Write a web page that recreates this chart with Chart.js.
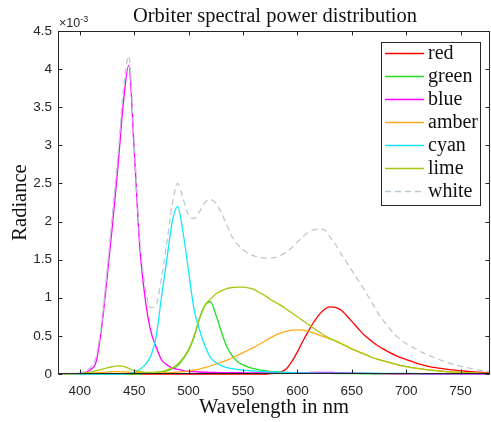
<!DOCTYPE html>
<html>
<head>
<meta charset="utf-8">
<script src="https://cdn.jsdelivr.net/npm/chart.js@4.4.1/dist/chart.umd.min.js"></script>
<style>
  html, body { margin: 0; padding: 0; background: #fff; }
  canvas { display: block; }
</style>
</head>
<body>
<canvas id="spd" width="491" height="422"></canvas>
<script>
// wavelengths in nm, radiance values in units of 1e-3
const wavelengths = [380,385,390,395,400,405,410,415,420,425,
  430,435,440,445,450,455,460,465,470,475,
  480,485,490,495,500,505,510,515,520,525,
  530,535,540,545,550,555,560,565,570,575,
  580,585,590,595,600,605,610,615,620,625,
  630,635,640,645,650,655,660,665,670,675,
  680,685,690,695,700,705,710,715,720,725,
  730,735,740,745,750,755,760,765,770,775,
  780];

const red = [0,0,0,0,0,0,0,0,0,0,
  0,0,0,0,0,0,0,0,0,0,
  0,0,0,0,0,0,0,0,0,0,
  0,0,0,0,0,0,0,0,0,0.005,
  0.012,0.028,0.07,0.165,0.29,0.43,0.56,0.68,0.78,0.85,
  0.88,0.875,0.84,0.77,0.69,0.61,0.53,0.47,0.41,0.36,
  0.32,0.28,0.245,0.215,0.19,0.165,0.14,0.12,0.1,0.088,
  0.077,0.067,0.058,0.05,0.043,0.036,0.03,0.025,0.02,0.016,
  0.013];

const green = [0,0,0,0,0,0,0,0,0,0,
  0,0,0,0,0,0,0.01,0.015,0.02,0.03,
  0.04,0.07,0.11,0.2,0.31,0.48,0.73,0.9,0.95,0.78,
  0.56,0.36,0.24,0.16,0.12,0.09,0.07,0.055,0.045,0.035,
  0.03,0.025,0.02,0.018,0.015,0.013,0.011,0.01,0.009,0.008,
  0.007,0.006,0.005,0.005,0.004,0.004,0.003,0.003,0.003,0.002,
  0.002,0.002,0.002,0.002,0.002,0.002,0.002,0.002,0.002,0.002,
  0.001,0.001,0.001,0.001,0.001,0.001,0.001,0.001,0.001,0.001,
  0.001];

const blue = [0,0,0,0,0.005,0.02,0.06,0.16,0.6,1.25,
  1.95,2.7,3.55,4.05,2.95,1.7,1.0,0.58,0.36,0.19,
  0.12,0.08,0.06,0.045,0.035,0.03,0.026,0.023,0.021,0.02,
  0.019,0.018,0.017,0.017,0.016,0.016,0.016,0.016,0.016,0.016,
  0.016,0.016,0.016,0.017,0.018,0.018,0.019,0.02,0.02,0.02,
  0.02,0.019,0.018,0.016,0.014,0.012,0.01,0.008,0.006,0.005,
  0.004,0.003,0.002,0.002,0.001,0.001,0.001,0,0,0,
  0,0,0,0,0,0,0,0,0,0,
  0];

const amber = [0,0,0,0,0.003,0.006,0.01,0.015,0.02,0.025,
  0.03,0.03,0.028,0.024,0.02,0.018,0.016,0.015,0.015,0.016,
  0.018,0.02,0.024,0.03,0.038,0.05,0.065,0.085,0.105,0.13,
  0.155,0.18,0.21,0.245,0.28,0.315,0.35,0.39,0.43,0.47,
  0.51,0.54,0.56,0.575,0.58,0.575,0.56,0.54,0.51,0.485,
  0.46,0.435,0.4,0.365,0.33,0.3,0.27,0.24,0.21,0.19,
  0.17,0.15,0.13,0.11,0.096,0.085,0.075,0.065,0.055,0.048,
  0.04,0.034,0.028,0.024,0.02,0.016,0.013,0.01,0.008,0.006,
  0.005];

const cyan = [0,0,0,0,0,0,0,0,0,0,
  0,0,0,0.005,0.02,0.06,0.12,0.23,0.47,1.0,
  1.5,2.0,2.2,1.85,1.35,0.85,0.58,0.37,0.22,0.15,
  0.11,0.085,0.07,0.06,0.05,0.045,0.04,0.035,0.03,0.028,
  0.025,0.022,0.02,0.018,0.016,0.015,0.014,0.013,0.012,0.011,
  0.01,0.01,0.01,0.01,0.01,0.01,0.01,0.01,0.01,0.01,
  0.009,0.009,0.008,0.008,0.007,0.007,0.006,0.006,0.005,0.005,
  0.005,0.005,0.005,0.005,0.005,0.005,0.005,0.005,0.005,0.005,
  0.005];

const lime = [0,0,0,0.003,0.008,0.015,0.025,0.04,0.06,0.08,
  0.095,0.106,0.1,0.075,0.045,0.03,0.022,0.02,0.022,0.032,
  0.05,0.08,0.13,0.21,0.32,0.5,0.72,0.9,0.98,1.05,
  1.09,1.12,1.135,1.14,1.14,1.13,1.11,1.07,1.03,0.98,
  0.94,0.9,0.85,0.8,0.75,0.7,0.65,0.6,0.55,0.505,
  0.465,0.435,0.4,0.365,0.33,0.3,0.27,0.24,0.21,0.19,
  0.17,0.15,0.13,0.11,0.096,0.085,0.075,0.065,0.055,0.048,
  0.04,0.034,0.028,0.024,0.02,0.016,0.013,0.01,0.008,0.006,
  0.005];

const white = [0,0,0.003,0.008,0.015,0.04,0.09,0.23,0.65,1.35,
  2.1,2.85,3.72,4.17,3.05,1.8,1.15,0.87,0.9,1.25,
  1.72,2.23,2.5,2.3,2.08,2.04,2.13,2.25,2.29,2.24,
  2.12,1.96,1.8,1.7,1.63,1.58,1.55,1.53,1.52,1.52,
  1.53,1.56,1.6,1.66,1.73,1.8,1.86,1.89,1.9,1.89,
  1.8,1.7,1.58,1.47,1.36,1.25,1.14,1.02,0.9,0.78,
  0.68,0.59,0.51,0.45,0.4,0.36,0.32,0.28,0.25,0.22,
  0.19,0.165,0.14,0.12,0.1,0.085,0.07,0.055,0.045,0.035,
  0.025];

const seriesNames = ["red", "green", "blue", "amber", "cyan", "lime", "white"];
const xTicks = [400, 450, 500, 550, 600, 650, 700, 750];
const yTicks = [0, 0.5, 1, 1.5, 2, 2.5, 3, 3.5, 4, 4.5];

const colors = ["#ff0000", "#22dd22", "#ff00ff", "#ffab1a", "#12e6fa", "#a6c812", "#b9c9d6"];
const seriesData = [red, green, blue, amber, cyan, lime, white];

const AXIS_COLOR = "#262626";
const SERIF = "'Liberation Serif', 'Times New Roman', serif";
const SANS = "'Liberation Sans', Arial, sans-serif";

// box, inside ticks, title, exponent and legend in the MATLAB look
const matlabAxes = {
  id: "matlabAxes",
  afterDatasetsDraw(chart) {
    const { ctx, chartArea: a, scales } = chart;
    ctx.save();
    ctx.strokeStyle = AXIS_COLOR;
    ctx.lineWidth = 1;
    const L = a.left + 0.5, R = a.right - 0.5, T = a.top + 0.5, B = a.bottom - 0.5;
    ctx.strokeRect(L, T, R - L, B - T);
    ctx.beginPath();
    xTicks.forEach(v => {
      const x = Math.round(scales.x.getPixelForValue(v)) + 0.5;
      ctx.moveTo(x, B); ctx.lineTo(x, B - 4);
      ctx.moveTo(x, T); ctx.lineTo(x, T + 4);
    });
    yTicks.forEach(v => {
      const y = Math.round(scales.y.getPixelForValue(v)) + 0.5;
      ctx.moveTo(L, y); ctx.lineTo(L + 4, y);
      ctx.moveTo(R, y); ctx.lineTo(R - 4, y);
    });
    ctx.stroke();
    ctx.restore();
  },
  afterDraw(chart) {
    const { ctx, chartArea: a } = chart;
    ctx.save();
    // title
    ctx.fillStyle = "#111";
    ctx.font = "20.5px " + SERIF;
    ctx.textAlign = "center";
    ctx.textBaseline = "alphabetic";
    ctx.fillText("Orbiter spectral power distribution", (a.left + a.right) / 2 + 1, 22);

    // exponent label
    ctx.fillStyle = AXIS_COLOR;
    ctx.textAlign = "left";
    ctx.font = "12.5px " + SANS;
    ctx.fillText("\u00d710", a.left + 1, 27);
    const w = ctx.measureText("\u00d710").width;
    ctx.font = "9px " + SANS;
    ctx.fillText("-3", a.left + 1 + w, 22);

    // legend
    const lx = 381, ly = 42, lw = 99, lh = 163;
    ctx.fillStyle = "#fff";
    ctx.fillRect(lx, ly, lw, lh);
    ctx.strokeStyle = AXIS_COLOR;
    ctx.lineWidth = 1;
    ctx.strokeRect(lx + 0.5, ly + 0.5, lw, lh);
    ctx.font = "20px " + SERIF;
    ctx.textBaseline = "middle";
    chart.data.datasets.forEach((ds, i) => {
      const y = Math.round(53 + i * 23.07) + 0.5;
      ctx.strokeStyle = ds.borderColor;
      ctx.lineWidth = 1.3;
      ctx.setLineDash(ds.borderDash || []);
      ctx.beginPath();
      ctx.moveTo(385, y);
      ctx.lineTo(424, y);
      ctx.stroke();
      ctx.setLineDash([]);
      ctx.fillStyle = "#111";
      ctx.fillText(ds.label, 428, y);
    });
    ctx.restore();
  }
};

const datasets = seriesNames.map((name, i) => ({
  label: name,
  data: seriesData[i].map((v, j) => ({ x: wavelengths[j], y: v })),
  borderColor: colors[i],
  backgroundColor: colors[i],
  borderWidth: 1.3,
  borderDash: name === "white" ? [6, 4] : [],
  pointRadius: 0,
  cubicInterpolationMode: "monotone",
  fill: false,
  order: seriesNames.length - i,
  clip: { left: 0, top: 0, right: 0, bottom: 2 }
}));

new Chart(document.getElementById("spd"), {
  type: "line",
  data: { datasets: datasets },
  options: {
    responsive: false,
    animation: false,
    layout: { padding: { top: 31, right: 1, left: 0, bottom: 0 } },
    plugins: {
      legend: { display: false },
      title: { display: false },
      tooltip: { enabled: false }
    },
    scales: {
      x: {
        type: "linear",
        min: 380,
        max: 777,
        grid: { display: false, drawTicks: false },
        border: { display: false },
        afterBuildTicks: scale => { scale.ticks = xTicks.map(v => ({ value: v })); },
        afterFit: scale => { scale.height = 48; },
        ticks: {
          color: AXIS_COLOR,
          font: { family: SANS, size: 13.5 },
          padding: 9,
          maxRotation: 0,
          autoSkip: false,
          callback: v => String(v)
        },
        title: {
          display: true,
          text: "Wavelength in nm",
          color: "#111",
          font: { family: SERIF, size: 20.5 },
          padding: { top: 0, bottom: 2 }
        }
      },
      y: {
        min: 0,
        max: 4.5,
        grid: { display: false, drawTicks: false },
        border: { display: false },
        afterBuildTicks: scale => { scale.ticks = yTicks.map(v => ({ value: v })); },
        afterFit: scale => { scale.width = 58; },
        ticks: {
          color: AXIS_COLOR,
          font: { family: SANS, size: 13.5 },
          padding: 6,
          autoSkip: false,
          callback: v => String(v)
        },
        title: {
          display: true,
          text: "Radiance",
          color: "#111",
          font: { family: SERIF, size: 20.5 },
          padding: { top: 8, bottom: 0 }
        }
      }
    }
  },
  plugins: [matlabAxes]
});
</script>
</body>
</html>
